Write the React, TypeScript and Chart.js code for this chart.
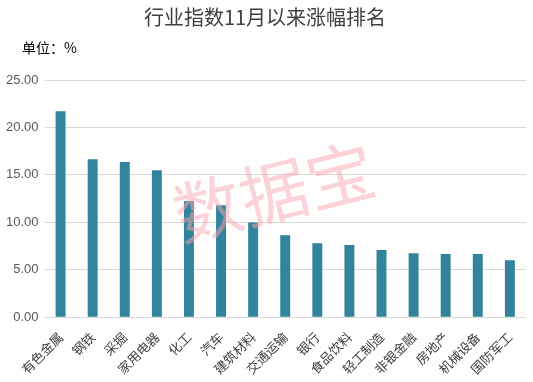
import React, { useEffect, useRef } from "react";
import { Chart, registerables } from "chart.js";

Chart.register(...registerables);

const categories = ["有色金属", "钢铁", "采掘", "家用电器", "化工", "汽车", "建筑材料", "交通运输", "银行", "食品饮料", "轻工制造", "非银金融", "房地产", "机械设备", "国防军工"];
const values = [21.7, 16.65, 16.35, 15.5, 12.25, 11.8, 9.98, 8.65, 7.8, 7.6, 7.07, 6.75, 6.65, 6.65, 6.0];
const titleText = "行业指数11月以来涨幅排名";
const unitText = "单位：%";
const watermarkText = "数据宝";

const extras = {
  id: "extras",
  afterDraw(chart: any) {
    const ctx = chart.ctx;
    ctx.save();
    ctx.fillStyle = "#000000";
    ctx.font = "14px 'Noto Sans CJK SC', sans-serif";
    ctx.textAlign = "left";
    ctx.textBaseline = "middle";
    ctx.fillText(unitText, 22, 48);
    ctx.restore();

    ctx.save();
    ctx.translate(274, 192);
    ctx.rotate(-14 * Math.PI / 180);
    ctx.globalAlpha = 0.5;
    ctx.fillStyle = "#f8a5af";
    ctx.font = "68px 'Noto Sans CJK SC', sans-serif";
    ctx.textAlign = "center";
    ctx.textBaseline = "middle";
    ctx.fillText(watermarkText, 0, 0);
    ctx.restore();
  },
};

export default function App() {
  const ref = useRef<HTMLCanvasElement>(null);
  useEffect(() => {
    const chart = new Chart(ref.current!, {
      type: "bar",
      data: {
        labels: categories,
        datasets: [
          {
            data: values,
            backgroundColor: "#31849b",
            categoryPercentage: 1,
            barPercentage: 0.31,
          },
        ],
      },
      options: {
        animation: false,
        responsive: false,
        maintainAspectRatio: false,
        layout: { padding: { left: 0, right: 3, top: 5, bottom: -7 } },
        plugins: {
          legend: { display: false },
          tooltip: { enabled: false },
          title: {
            display: true,
            text: titleText,
            color: "#404040",
            font: { family: "'Noto Sans CJK SC', sans-serif", size: 20, weight: "normal" },
            padding: { top: 0, bottom: 51 },
          },
        },
        scales: {
          x: {
            grid: { display: false, drawTicks: false },
            border: { display: true, color: "#d9d9d9" },
            ticks: {
              color: "#404040",
              font: { family: "'Noto Sans CJK SC', sans-serif", size: 13 },
              minRotation: 45,
              maxRotation: 45,
              autoSkip: false,
              padding: 12,
            },
          },
          y: {
            min: 0,
            max: 25,
            grid: { color: "#d9d9d9", drawTicks: false },
            border: { display: false },
            ticks: {
              stepSize: 5,
              color: "#595959",
              font: { family: "'Liberation Sans', Arial, sans-serif", size: 13 },
              padding: 6,
              callback: (v: any) => Number(v).toFixed(2),
            },
          },
        },
      },
      plugins: [extras],
    });
    return () => chart.destroy();
  }, []);
  return (
    <div style={{ position: "fixed", left: 0, top: 0, width: 533, height: 382, background: "#fff" }}>
      <canvas ref={ref} width={533} height={382} style={{ width: 533, height: 382 }} />
    </div>
  );
}
